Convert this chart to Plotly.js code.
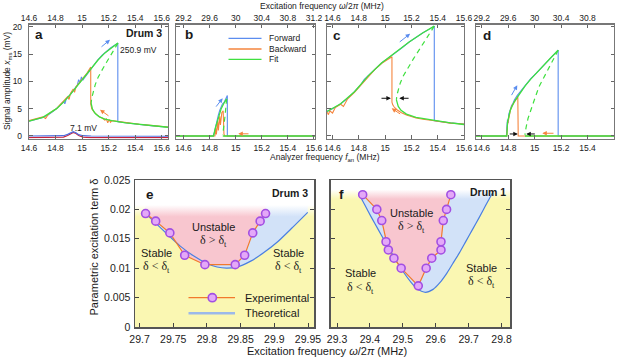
<!DOCTYPE html>
<html><head><meta charset="utf-8">
<script src="https://cdn.plot.ly/plotly-3.0.1.min.js"></script>
<style>html,body{margin:0;padding:0;background:#fff}#chart{width:622px;height:358px}</style>
</head><body><div id="chart"></div>
<script>
// ---------------- DATA ----------------
const anTickVals = [14.6, 14.8, 15, 15.2, 15.4, 15.6];
const anTickText = ['14.6', '14.8', '15', '15.2', '15.4', '15.6'];
const exTickText = ['29.2', '29.6', '30', '30.4', '30.8', '31.2'];
const ampTickVals = [0, 5, 10, 15, 20];
const aRange = [14.6, 15.647];
const bRange = [14.5425, 15.608];
const cRange = [14.558, 15.6];
const dRange = [14.557, 15.6];
const ampRange = [-0.46, 20.4];

// panel a
const aFwdX = [14.600,14.652,14.704,14.746,14.787,14.829,14.860,14.870,14.881,14.912,14.943,14.964,14.974,14.985,14.995,15.006,15.016,15.037,15.058,15.078,15.099,15.120,15.151,15.182,15.214,15.245,15.269,15.269,15.328,15.432,15.536,15.647];
const aFwdY = [2.7,3.0,3.4,3.9,4.6,5.5,6.3,5.9,6.8,7.6,8.5,9.3,10.3,9.8,10.8,10.2,10.6,11.3,12.0,12.6,13.3,14.0,14.8,15.5,16.1,16.6,17.0,2.6,2.4,2.1,1.85,1.6];
const aBwdX = [14.600,14.652,14.704,14.725,14.746,14.787,14.808,14.829,14.850,14.870,14.891,14.902,14.912,14.933,14.943,14.954,14.974,14.995,15.016,15.037,15.065,15.065,15.073,15.089,15.110,15.130,15.151,15.172,15.182,15.193,15.203,15.214,15.224,15.328,15.432,15.536,15.647];
const aBwdY = [2.8,3.1,3.5,3.2,4.0,4.7,5.0,5.6,6.1,6.6,7.2,6.7,7.8,8.6,8.0,9.0,9.6,10.2,10.9,11.5,12.6,5.8,5.0,4.4,3.9,3.5,3.3,2.9,3.2,2.4,3.0,2.5,2.8,2.45,2.15,1.9,1.65];
const aFitX = [14.600,14.704,14.808,14.860,14.912,14.964,15.016,15.068,15.120,15.172,15.224,15.270,null,15.068,15.078,15.099,15.130,15.172,15.224,15.328,15.432,15.536,15.647];
const aFitY = [2.7,3.4,5.0,6.2,7.6,9.2,10.7,12.3,13.9,15.2,16.2,17.0,null,6.0,4.9,4.1,3.5,3.1,2.8,2.4,2.1,1.85,1.6];
const aFitDashX = [15.270,15.245,15.214,15.182,15.151,15.120,15.099,15.084,15.073,15.068];
const aFitDashY = [17.0,15.9,14.6,13.4,12.1,10.7,9.4,8.1,7.0,6.0];
const aLowX = [14.600,14.808,14.860,14.891,14.912,14.933,14.954,14.974,15.006,15.068,15.647];
const aLowFwdY = [0.0,0.0,0.05,0.3,0.6,0.8,0.6,0.25,0.05,0.0,-0.05];
const aLowBwdY = [-0.3,-0.3,-0.2,0.1,0.45,0.65,0.45,0.1,-0.2,-0.3,-0.3];

// panel b
const bFwdX = [14.54,14.827,14.836,14.846,14.857,14.867,14.878,14.889,14.899,14.910,14.920,14.931,14.936,14.936,15.61];
const bFwdY = [0,0,0.6,1.8,2.9,3.8,4.7,5.4,5.9,6.1,6.6,7.2,7.4,0,0];
const bBwdX = [14.54,14.841,14.846,14.852,14.862,14.867,14.878,14.883,14.894,14.904,14.910,14.915,15.61];
const bBwdY = [0,0,1.5,0.3,2.8,1.0,3.6,2.0,4.3,4.6,0.4,0,0];
const bFitX = [14.54,14.830,14.846,14.867,14.889,14.910,14.931,null,14.901,15.61];
const bFitY = [0,0,1.6,3.5,5.0,6.0,6.8,null,0,0];
const bFitDashX = [14.931,14.926,14.918,14.910,14.901];
const bFitDashY = [6.8,5.2,3.6,2.0,0.2];

// panel c
const cFwdX = [14.558,14.579,14.610,14.662,14.715,14.767,14.819,14.840,14.871,14.923,14.975,15.027,15.079,15.131,15.183,15.235,15.288,15.340,15.374,15.374,15.444,15.496,15.600];
const cFwdY = [4.5,4.7,5.1,5.9,6.9,8.1,9.5,10.3,11.0,12.3,13.4,14.3,15.2,16.2,17.2,18.1,18.9,19.6,20.1,2.8,2.55,2.4,2.2];
const cBwdX = [14.558,14.569,14.579,14.600,14.621,14.662,14.683,14.715,14.767,14.819,14.871,14.923,14.975,15.027,15.052,15.052,15.058,15.069,15.090,15.121,15.162,15.235,15.288,15.374,15.444,15.496,15.600];
const cBwdY = [4.4,3.9,4.6,4.2,5.2,5.8,5.4,6.8,8.0,9.4,10.9,12.2,13.3,14.1,14.5,6.2,5.7,5.3,4.8,4.3,3.85,3.3,3.05,2.8,2.5,2.35,2.2];
const cFitX = [14.558,14.662,14.767,14.871,14.975,15.079,15.183,15.288,15.374,null,15.086,15.092,15.100,15.121,15.162,15.235,15.374,15.496,15.600];
const cFitY = [4.5,5.9,8.1,11.0,13.4,15.3,17.2,18.9,20.1,null,6.6,5.9,5.4,4.7,4.0,3.4,2.85,2.4,2.1];
const cFitDashX = [15.374,15.319,15.267,15.215,15.173,15.136,15.114,15.098,15.089,15.086];
const cFitDashY = [20.1,18.1,16.1,14.1,12.4,10.9,9.6,8.4,7.4,6.6];

// panel d
const dFwdX = [14.55,14.787,14.790,14.795,14.800,14.805,14.816,14.826,14.837,14.847,14.868,14.899,14.930,14.971,15.013,15.054,15.095,15.137,15.178,15.178,15.61];
const dFwdY = [0,0,1.5,3.0,2.4,4.0,4.8,5.6,6.0,6.6,7.4,8.4,9.4,10.5,11.5,12.5,13.5,14.6,15.7,0,0];
const dBwdX = [14.55,14.790,14.795,14.805,14.816,14.826,14.842,14.857,14.873,14.876,15.61];
const dBwdY = [0,0,2.0,3.5,4.6,5.4,6.1,6.7,7.2,0,0];
const dFitX = [14.55,14.790,14.795,14.816,14.847,14.888,14.930,14.971,15.023,15.075,15.126,15.178,null,14.927,15.61];
const dFitY = [0,0,2.5,4.7,6.3,7.8,9.2,10.4,11.8,13.1,14.4,15.7,null,0,0];
const dFitDashX = [15.178,15.126,15.075,15.033,15.002,14.971,14.950,14.935,14.927];
const dFitDashY = [15.7,13.3,11.1,9.0,6.9,4.8,3.2,1.5,0.2];

// panels e, f
const deltaRange = [0, 0.025];
const deltaTickVals = [0, 0.005, 0.01, 0.015, 0.02, 0.025];
const deltaTickText = ['0', '0.005', '0.01', '0.015', '0.02', '0.025'];
const eRange = [29.6933, 29.9589];
const eTickVals = [29.7, 29.75, 29.8, 29.85, 29.9, 29.95];
const eTickText = ['29.7', '29.75', '29.8', '29.85', '29.9', '29.95'];
const fRange = [29.2802, 29.8258];
const fTickVals = [29.3, 29.4, 29.5, 29.6, 29.7, 29.8];
const fTickText = ['29.3', '29.4', '29.5', '29.6', '29.7', '29.8'];

const eExpX = [29.709, 29.724, 29.745, 29.767, 29.797, 29.842, 29.856, 29.868, 29.879, 29.887];
const eExpY = [0.0193, 0.0180, 0.0160, 0.0122, 0.0106, 0.0106, 0.0122, 0.0160, 0.0180, 0.0193];
const eThX = [29.708, 29.72, 29.74, 29.76, 29.78, 29.80, 29.815, 29.829, 29.845, 29.865, 29.885, 29.905, 29.925, 29.9496];
const eThY = [0.0194, 0.0181, 0.0159, 0.0138, 0.0121, 0.0108, 0.0102, 0.0100, 0.0102, 0.0112, 0.0127, 0.0145, 0.0167, 0.0195];
const fExpX = [29.378, 29.421, 29.436, 29.449, 29.456, 29.473, 29.495, 29.547, 29.571, 29.588, 29.616, 29.616, 29.623, 29.633, 29.646];
const fExpY = [0.0225, 0.0200, 0.0181, 0.0145, 0.0131, 0.0117, 0.0100, 0.0070, 0.0100, 0.0117, 0.0131, 0.0145, 0.0181, 0.0200, 0.0225];
const fThX = [29.365, 29.385, 29.405, 29.425, 29.445, 29.465, 29.485, 29.505, 29.525, 29.545, 29.5687, 29.592, 29.612, 29.632, 29.652, 29.672, 29.692, 29.712, 29.732, 29.752, 29.7726];
const fThY = [0.0228, 0.0207, 0.0186, 0.0166, 0.0146, 0.0127, 0.0108, 0.0091, 0.0076, 0.0064, 0.0059, 0.0064, 0.0075, 0.0090, 0.0108, 0.0126, 0.0146, 0.0166, 0.0186, 0.0207, 0.0228];

// ---------------- STYLE ----------------
const W = 622, H = 358;
const FONT = 'Liberation Sans, Arial, Helvetica, sans-serif';
const SERIF = 'Liberation Serif, Times New Roman, serif';
const C_FWD = '#5b8def', C_BWD = '#f5843c', C_FIT = '#3fe03f';
const C_EXP = '#f2792c', C_TH = '#4a7fe2';
const C_YEL = '#faf7b2', C_BLU = '#d2e2f8', C_PNK = '#f8c6cf';
const px = v => v / W, py = v => 1 - v / H;

const traces = [];
function ln(x, y, xa, ya, color, width, dash) {
  traces.push({type: 'scatter', mode: 'lines', x: x, y: y, xaxis: xa, yaxis: ya,
    line: {color: color, width: width, dash: dash || 'solid'}, hoverinfo: 'skip', showlegend: false, connectgaps: false});
}
function panelTop(ax, fx, fy, bx, by, gx, gy, gdx, gdy) {
  ln(fx, fy, 'x' + ax, 'y' + ax, C_FWD, 1.1);
  ln(bx, by, 'x' + ax, 'y' + ax, C_BWD, 1.1);
  ln(gx, gy, 'x' + ax, 'y' + ax, C_FIT, 1.3);
  ln(gdx, gdy, 'x' + ax, 'y' + ax, C_FIT, 1.2, '5px,4px');
}
ln(aLowX, aLowBwdY, 'x', 'y', '#c8203a', 1.2);
ln(aLowX, aLowFwdY, 'x', 'y', '#4e6fe0', 1.2);
panelTop('', aFwdX, aFwdY, aBwdX, aBwdY, aFitX, aFitY, aFitDashX, aFitDashY);
panelTop(2, bFwdX, bFwdY, bBwdX, bBwdY, bFitX, bFitY, bFitDashX, bFitDashY);
panelTop(3, cFwdX, cFwdY, cBwdX, cBwdY, cFitX, cFitY, cFitDashX, cFitDashY);
panelTop(4, dFwdX, dFwdY, dBwdX, dBwdY, dFitX, dFitY, dFitDashX, dFitDashY);

// bottom gradient regions
function grad(x, y, xa, ya, color, lo, hi) {
  traces.push({type: 'scatter', mode: 'none', x: x, y: y, xaxis: xa, yaxis: ya, fill: 'toself',
    fillgradient: {type: 'vertical', start: deltaRange[0], stop: deltaRange[1],
      colorscale: [[0, color], [lo, color], [hi, '#ffffff'], [1, '#ffffff']]},
    hoverinfo: 'skip', showlegend: false});
}
function bottomPanel(n, rng, thX, thY, exX, exY, lo, hi) {
  const xa = 'x' + n, ya = 'y' + n, top = deltaRange[1];
  grad([rng[0], rng[1], rng[1], rng[0]], [deltaRange[0], deltaRange[0], top, top], xa, ya, C_YEL, lo, hi);
  grad(thX.concat([thX[thX.length - 1], thX[0]]), thY.concat([top, top]), xa, ya, C_BLU, lo, hi);
  grad(exX.concat([exX[exX.length - 1], exX[0]]), exY.concat([top, top]), xa, ya, C_PNK, lo, hi);
  traces.push({type: 'scatter', mode: 'lines', x: thX, y: thY, xaxis: xa, yaxis: ya, line: {color: C_TH, width: 1.2, shape: 'spline', smoothing: 0.6}, hoverinfo: 'skip', showlegend: false});
  traces.push({type: 'scatter', mode: 'lines+markers', x: exX, y: exY, xaxis: xa, yaxis: ya, line: {color: C_EXP, width: 1.2},
    marker: {size: 8, color: '#e4a8f8', line: {color: '#a24fe2', width: 1.6}}, hoverinfo: 'skip', showlegend: false});
}
bottomPanel(5, eRange, eThX, eThY, eExpX, eExpY, 0.75, 0.83);
bottomPanel(6, fRange, fThX, fThY, fExpX, fExpY, 0.87, 0.935);

// ---------------- AXES ----------------
const tf = {family: FONT, size: 8.5, color: '#222'};
const bf = {family: FONT, size: 10.5, color: '#222'};
function xTop(dom, anchor, rng) {
  return {domain: dom, anchor: anchor, range: rng, tickvals: anTickVals, ticktext: anTickText,
    ticks: 'inside', ticklen: 3.5, tickcolor: '#666', tickwidth: 1, showline: true, linecolor: '#777', linewidth: 1.2,
    mirror: 'ticks', showgrid: false, zeroline: false, tickfont: tf, ticklabelstandoff: 1};
}
function yTop(dom, anchor, labels) {
  return {domain: dom, anchor: anchor, range: ampRange, tickvals: ampTickVals, showticklabels: labels,
    ticks: 'inside', ticklen: 3.5, tickcolor: '#666', tickwidth: 1, showline: true, linecolor: '#777', linewidth: 1.2,
    mirror: 'ticks', showgrid: false, zeroline: false, tickfont: tf, ticklabelstandoff: 4};
}
function xOver(over, anchor, rng, text) {
  return {overlaying: over, anchor: anchor, side: 'top', range: rng, tickvals: anTickVals, ticktext: text,
    ticks: '', showline: false, showgrid: false, zeroline: false, tickfont: tf, ticklabelstandoff: 1};
}
const yDomTop = [py(138.5), py(24.5)];
const yDomBot = [py(327), py(180)];
const layout = {
  width: W, height: H, margin: {l: 0, r: 0, t: 0, b: 0}, paper_bgcolor: '#fff', plot_bgcolor: 'rgba(0,0,0,0)',
  showlegend: false, font: {family: FONT},
  xaxis: xTop([px(29), px(168)], 'y', aRange), yaxis: yTop(yDomTop, 'x', true),
  xaxis2: xTop([px(176), px(315)], 'y2', bRange), yaxis2: yTop(yDomTop, 'x2', false),
  xaxis3: xTop([px(327), px(464)], 'y3', cRange), yaxis3: yTop(yDomTop, 'x3', false),
  xaxis4: xTop([px(476), px(614)], 'y4', dRange), yaxis4: yTop(yDomTop, 'x4', false),
  xaxis7: xOver('x', 'y', aRange, anTickText), xaxis8: xOver('x2', 'y2', bRange, exTickText),
  xaxis9: xOver('x3', 'y3', cRange, anTickText), xaxis10: xOver('x4', 'y4', dRange, exTickText),
  xaxis5: {domain: [px(135), px(314)], anchor: 'y5', range: eRange, tickvals: eTickVals, ticktext: eTickText,
    ticks: 'inside', ticklen: 4, tickcolor: '#444', showline: true, linecolor: '#555', linewidth: 1.5, mirror: true,
    showgrid: false, zeroline: false, tickfont: bf, ticklabelstandoff: 2},
  yaxis5: {domain: yDomBot, anchor: 'x5', range: deltaRange, tickvals: deltaTickVals, ticktext: deltaTickText,
    ticks: 'inside', ticklen: 4, tickcolor: '#444', showline: true, linecolor: '#555', linewidth: 1.5, mirror: 'ticks',
    showgrid: false, zeroline: false, tickfont: bf, ticklabelstandoff: 1},
  xaxis6: {domain: [px(330.5), px(510)], anchor: 'y6', range: fRange, tickvals: fTickVals, ticktext: fTickText,
    ticks: 'inside', ticklen: 4, tickcolor: '#444', showline: true, linecolor: '#555', linewidth: 1.5, mirror: true,
    showgrid: false, zeroline: false, tickfont: bf, ticklabelstandoff: 2},
  yaxis6: {domain: yDomBot, anchor: 'x6', range: deltaRange, tickvals: deltaTickVals, showticklabels: false,
    ticks: 'inside', ticklen: 4, tickcolor: '#444', showline: true, linecolor: '#555', linewidth: 1.5, mirror: 'ticks',
    showgrid: false, zeroline: false},
  annotations: [], shapes: []
};
['x7/y', 'x8/y2', 'x9/y3', 'x10/y4'].forEach(s => {
  const p = s.split('/');
  traces.push({type: 'scatter', x: [null], y: [null], xaxis: p[0], yaxis: p[1], hoverinfo: 'skip', showlegend: false});
});

// ---------------- TEXT ----------------
const A = layout.annotations;
function txt(x, y, text, size, opts) {
  opts = opts || {};
  A.push(Object.assign({xref: 'paper', yref: 'paper', x: px(x), y: py(y), text: text, showarrow: false,
    xanchor: 'center', yanchor: 'middle', font: {family: FONT, size: size, color: '#1a1a1a'}}, opts));
}
txt(322, 5.5, 'Excitation frequency <i>ω</i>/2<i>π</i> (MHz)', 8.5);
txt(325, 157, 'Analyzer frequency <i>f</i><sub>an</sub> (MHz)', 8.5);
txt(7, 81, 'Signal amplitude <i>x</i><sub>ms</sub> (mV)', 8.5, {textangle: -90});
txt(38.5, 35, '<b>a</b>', 13.5);
txt(164, 33.5, '<b>Drum 3</b>', 10.5, {xanchor: 'right'});
txt(188.5, 35, '<b>b</b>', 13.5);
txt(337, 35.5, '<b>c</b>', 13.5);
txt(487, 35.5, '<b>d</b>', 13.5);
txt(138, 50, '250.9 mV', 8.5);
txt(83, 127.5, '7.1 mV', 8.5);
// top legend
const legY = [38.3, 49, 59.3], legN = ['Forward', 'Backward', 'Fit'], legC = [C_FWD, C_BWD, C_FIT];
for (let i = 0; i < 3; i++) {
  layout.shapes.push({type: 'line', xref: 'paper', yref: 'paper', x0: px(228.5), x1: px(261.5), y0: py(legY[i]), y1: py(legY[i]), line: {color: legC[i], width: 1.3}});
  txt(266.5, legY[i], legN[i], 8.5, {xanchor: 'left'});
}
// bottom
txt(93, 247.5, 'Parametric excitation term δ', 11, {textangle: -90});
txt(327, 351, 'Excitation frequency <i>ω</i>/2<i>π</i> (MHz)', 11);
txt(150, 195, '<b>e</b>', 13.5);
txt(310, 193, '<b>Drum 3</b>', 10.5, {xanchor: 'right'});
txt(341.7, 195, '<b>f</b>', 13.5);
txt(508, 191.5, '<b>Drum 1</b>', 10.5, {xanchor: 'right'});
const dg = 'δ &gt; δ<sub>t</sub>', dl = 'δ &lt; δ<sub>t</sub>';
const sf = {font: {family: SERIF, size: 12, color: '#1a1a1a'}};
txt(213.3, 226.7, 'Unstable', 11); txt(213.3, 240.5, dg, 12, sf);
txt(156.7, 253.3, 'Stable', 11); txt(156.7, 267, dl, 12, sf);
txt(288.3, 253.3, 'Stable', 11); txt(288.3, 267, dl, 12, sf);
txt(411.7, 213.3, 'Unstable', 11); txt(411.7, 227, dg, 12, sf);
txt(360, 273.3, 'Stable', 11); txt(360, 288.3, dl, 12, sf);
txt(481.7, 268.3, 'Stable', 11); txt(481.7, 282, dl, 12, sf);
// bottom legend
layout.shapes.push({type: 'line', xref: 'paper', yref: 'paper', x0: px(188.5), x1: px(235), y0: py(297.7), y1: py(297.7), line: {color: C_EXP, width: 1.3}});
layout.shapes.push({type: 'circle', xref: 'paper', yref: 'paper', x0: px(208.2), x1: px(216.4), y0: py(301.8), y1: py(293.6), fillcolor: '#e4a8f8', line: {color: '#a24fe2', width: 1.6}});
layout.shapes.push({type: 'line', xref: 'paper', yref: 'paper', x0: px(188.5), x1: px(235), y0: py(313.3), y1: py(313.3), line: {color: '#9cb9ea', width: 2.6}});
txt(243.3, 297.7, 'Experimental', 11, {xanchor: 'left'});
txt(243.3, 313.3, 'Theoretical', 11, {xanchor: 'left'});

// ---------------- ARROWS ----------------
const arrows = [
  // [axis, tailX, tailY, headX, headY, color]
  ['', 15.135, 16.1, 15.210, 17.6, C_FWD], ['', 15.210, 3.5, 15.135, 4.8, C_BWD],
  ['2', 14.841, 5.1, 14.900, 6.9, C_FWD], ['2', 15.110, 0.4, 15.020, 0.4, C_BWD],
  ['3', 15.100, 17.0, 15.190, 18.7, C_FWD], ['3', 15.126, 3.85, 15.050, 5.07, C_BWD],
  ['3', 14.961, 6.9, 15.044, 6.9, '#111'], ['3', 15.190, 6.9, 15.108, 6.9, '#111'],
  ['4', 14.819, 7.2, 14.869, 9.3, C_FWD], ['4', 15.154, 0.5, 15.058, 0.5, C_BWD],
  ['4', 14.801, 0.37, 14.873, 0.37, '#111'], ['4', 15.013, 0.37, 14.937, 0.37, '#111']
];
arrows.forEach(a => {
  A.push({xref: 'x' + a[0], yref: 'y' + a[0], axref: 'x' + a[0], ayref: 'y' + a[0], x: a[3], y: a[4], ax: a[1], ay: a[2],
    text: '', showarrow: true, arrowhead: 2, arrowsize: 0.9, arrowwidth: 1, arrowcolor: a[5], standoff: 0});
});

Plotly.newPlot('chart', traces, layout, {staticPlot: true, displayModeBar: false});
</script></body></html>
